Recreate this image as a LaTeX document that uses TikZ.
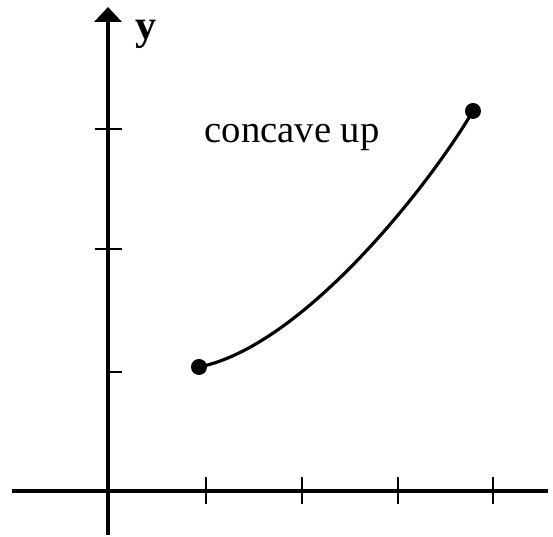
\documentclass[tikz,border=0pt]{standalone}
\usepackage{fontspec}
\setmainfont{Liberation Serif}
\usepackage{tikz}
\usetikzlibrary{arrows.meta, positioning}

\begin{document}
\begin{tikzpicture}[
    axis/.style={line width=1.25pt},
    tick/.style={line width=0.7pt},
    dot/.style={circle, fill=black, inner sep=0pt, minimum size=0.16cm}
]
    \useasboundingbox (0,0) rectangle (5.53,5.37);

    % axes
    \coordinate (ybot) at (1.08,0.02);
    \coordinate (ytop) at (1.08,5.30);
    \coordinate (xleft) at (0.12,0.46);
    \coordinate (xright) at (5.48,0.46);
    \draw[axis, -{Triangle[width=0.27cm, length=0.15cm]}] (ybot) -- (ytop);
    \draw[axis] (xleft) -- (xright);
    \node[font=\fontsize{12}{14}\selectfont\bfseries] (ylabel) at (1.46,5.03) {y};

    % ticks
    \foreach \x in {2.06, 3.02, 3.98, 4.93}
        \draw[tick] (\x,0.33) -- (\x,0.60);
    \foreach \y in {4.08, 2.88}
        \draw[tick] (0.95,\y) -- (1.22,\y);
    \draw[tick] (1.08,1.65) -- (1.22,1.65);

    % the curve
    \node[dot] (start) at (1.99,1.70) {};
    \node[dot] (end) at (4.73,4.26) {};
    \draw[line width=0.9pt] (start.center) .. controls (3.0,1.9) and (4.25,3.45) .. (end.center);
    \node[font=\fontsize{11}{14}\selectfont] (label) at (2.92,3.99) {concave up};
\end{tikzpicture}
\end{document}
